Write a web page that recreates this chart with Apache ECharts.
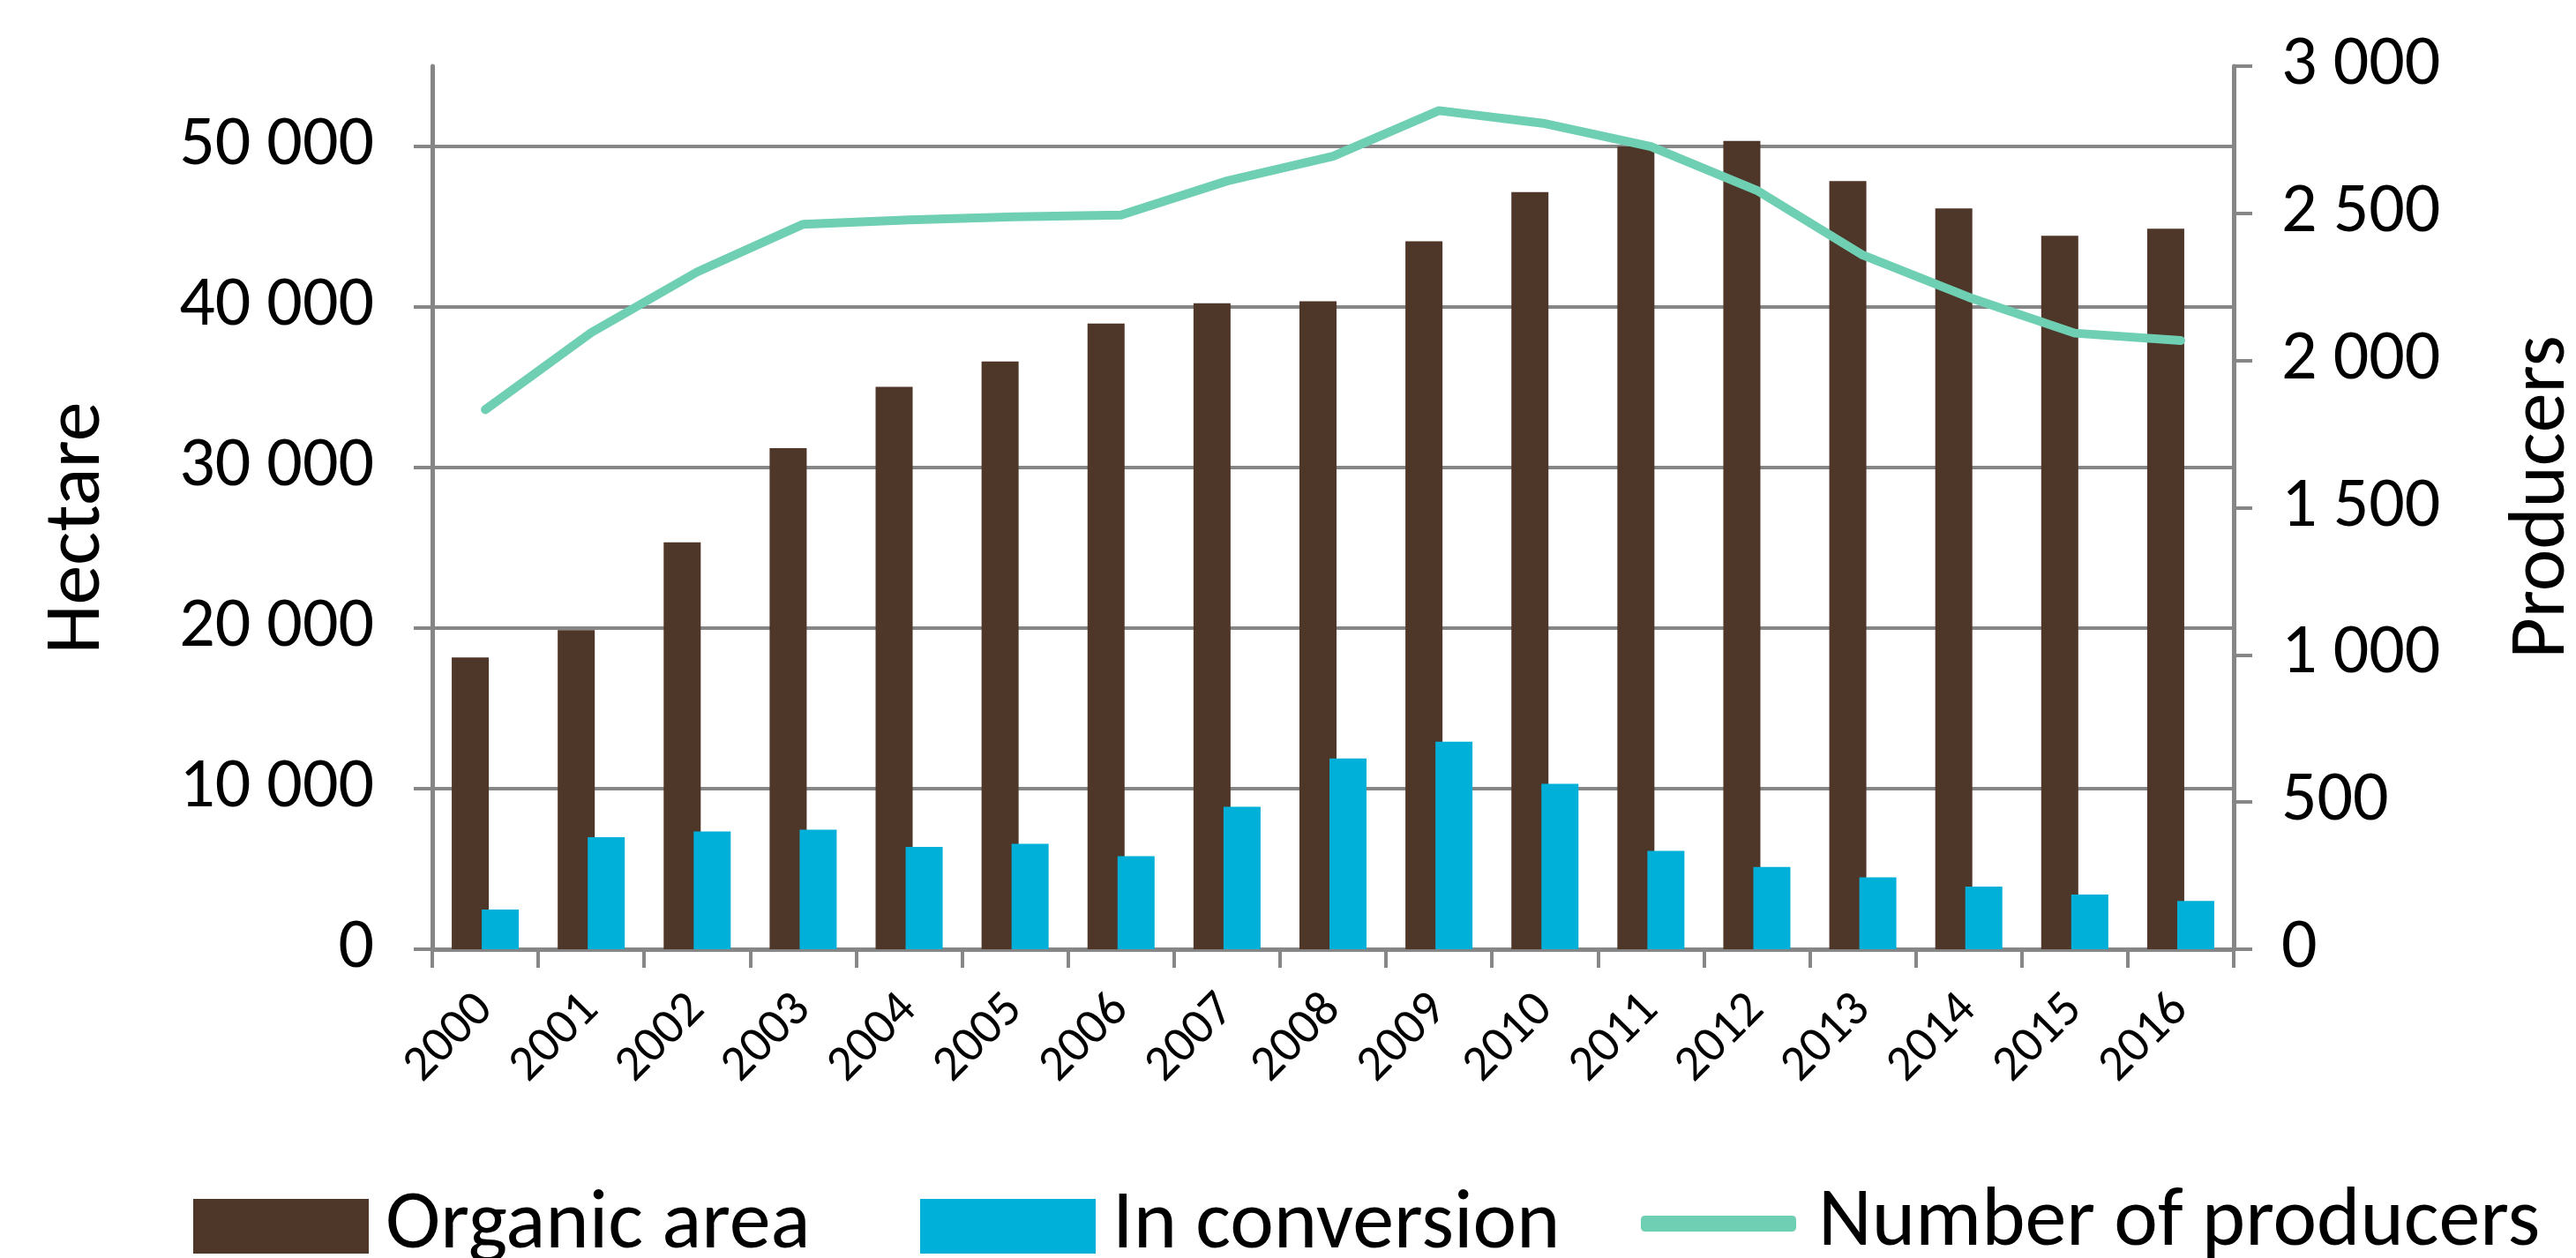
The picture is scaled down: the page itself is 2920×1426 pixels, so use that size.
<!DOCTYPE html>
<html>
<head>
<meta charset="utf-8">
<script src="https://cdn.jsdelivr.net/npm/echarts@6/dist/echarts.min.js"></script>
<style>
  html, body { margin: 0; padding: 0; background: #fff; }
  #chart { width: 2920px; height: 1426px; }
</style>
</head>
<body>
<div id="chart"></div>
<script>
var years = ['2000', '2001', '2002', '2003', '2004', '2005', '2006', '2007', '2008', '2009', '2010', '2011', '2012', '2013', '2014', '2015', '2016'];
var organicArea = [18170, 19870, 25350, 31210, 35030, 36610, 38970, 40240, 40360, 44100, 47150, 50000, 50350, 47840, 46140, 44440, 44870];
var inConversion = [2470, 6980, 7330, 7450, 6370, 6560, 5790, 8870, 11880, 12920, 10300, 6130, 5130, 4480, 3900, 3400, 3010];
var producers = [1833, 2095, 2301, 2463, 2478, 2488, 2494, 2610, 2694, 2849, 2805, 2727, 2578, 2358, 2215, 2093, 2068];
var hectareTicks = [0, 10000, 20000, 30000, 40000, 50000];

var font = 'Carlito, Lato, sans-serif';
var grey = '#868686';

// "50 000" style
function spaced(v) {
    return String(v).replace(/\B(?=(\d{3})+(?!\d))/g, ' ');
}

var myChart = echarts.init(document.getElementById('chart'));

var legendText = { fontFamily: font, fontSize: 94, color: '#000', lineHeight: 62 };

myChart.setOption({
    backgroundColor: '#fff',
    animation: false,
    textStyle: { fontFamily: font, color: '#000' },
    grid: {
        left: 490,
        right: 388,
        top: 75,
        bottom: 350,
        outerBoundsMode: 'none',
        containLabel: false
    },
    legend: [
        {
            data: [{ name: 'Organic area', icon: 'rect' }],
            left: 214, top: 1338,
            itemWidth: 199, itemHeight: 62, itemGap: 0,
            textStyle: Object.assign({ padding: [0, 0, 0, 14] }, legendText)
        },
        {
            data: [{ name: 'In conversion', icon: 'rect' }],
            left: 1038, top: 1338,
            itemWidth: 199, itemHeight: 62, itemGap: 0,
            textStyle: Object.assign({ padding: [0, 0, 0, 14] }, legendText)
        },
        {
            data: [{ name: 'Number of producers', icon: 'roundRect' }],
            left: 1855, top: 1335,
            itemWidth: 176, itemHeight: 18, itemGap: 0,
            textStyle: Object.assign({ padding: [0, 0, 0, 20] }, legendText)
        }
    ],
    xAxis: {
        type: 'category',
        data: years,
        axisLine: { lineStyle: { color: grey, width: 5 } },
        axisTick: { show: true, length: 21, lineStyle: { color: grey, width: 4 } },
        axisLabel: { rotate: 45, margin: 60, fontSize: 57, color: '#000', fontFamily: font }
    },
    yAxis: [
        {
            type: 'value',
            name: 'Hectare',
            nameLocation: 'middle',
            nameGap: 356,
            nameTextStyle: { fontSize: 90, color: '#000', fontFamily: font, padding: [0, 46, 0, 0] },
            min: 0,
            max: 55000,
            interval: 10000,
            axisLine: { show: true, lineStyle: { color: grey, width: 5 } },
            axisTick: { show: true, length: 21, customValues: hectareTicks, lineStyle: { color: grey, width: 4 } },
            splitLine: { show: true, lineStyle: { color: grey, width: 4 } },
            axisLabel: {
                margin: 66, fontSize: 80, color: '#000', fontFamily: font,
                customValues: hectareTicks,
                formatter: spaced
            }
        },
        {
            type: 'value',
            name: 'Producers',
            nameLocation: 'middle',
            nameGap: 306,
            nameTextStyle: { fontSize: 90, color: '#000', fontFamily: font, padding: [0, 0, 0, 24] },
            min: 0,
            max: 3000,
            interval: 500,
            position: 'right',
            axisLine: { show: true, lineStyle: { color: grey, width: 5 } },
            axisTick: { show: true, length: 21, lineStyle: { color: grey, width: 4 } },
            splitLine: { show: false },
            axisLabel: { margin: 54, fontSize: 80, color: '#000', fontFamily: font, formatter: spaced }
        }
    ],
    series: [
        {
            name: 'Organic area',
            type: 'bar',
            yAxisIndex: 0,
            barWidth: 42,
            barGap: '-19%',
            itemStyle: { color: '#4e3629' },
            data: organicArea
        },
        {
            name: 'In conversion',
            type: 'bar',
            yAxisIndex: 0,
            barWidth: 42,
            barGap: '-19%',
            itemStyle: { color: '#00b0d8' },
            data: inConversion
        },
        {
            name: 'Number of producers',
            type: 'line',
            yAxisIndex: 1,
            symbol: 'none',
            z: 5,
            itemStyle: { color: '#6fcfb3' },
            lineStyle: { color: '#6fcfb3', width: 10, cap: 'round', join: 'round' },
            data: producers
        }
    ]
});
</script>
</body>
</html>
